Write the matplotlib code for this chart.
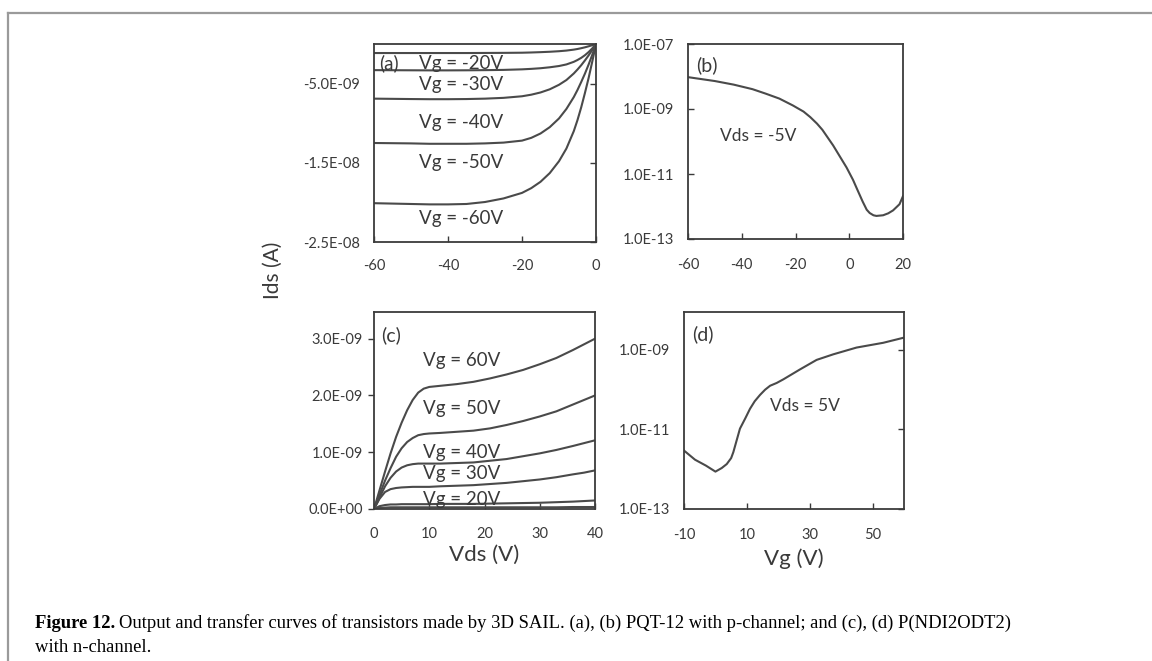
import numpy as np
import matplotlib.pyplot as plt
from matplotlib.lines import Line2D

plt.rcParams['font.family'] = ['Lato', 'DejaVu Sans']
plt.rcParams['axes.unicode_minus'] = False

# (a) output curves, PQT-12 (p-channel)
vds_a = [-60, -50, -45, -40, -35, -30, -25, -20, -17.5, -15, -12.5, -10, -8, -6, -5, -4, -3, -2, -1, 0]
ids_a_m20 = [-1.14, -1.14, -1.14, -1.14, -1.14, -1.13, -1.12, -1.10, -1.07, -1.03, -0.98, -0.91, -0.83, -0.71, -0.63, -0.53, -0.42, -0.29, -0.15, 0]
ids_a_m30 = [-3.30, -3.32, -3.33, -3.33, -3.32, -3.30, -3.27, -3.20, -3.14, -3.06, -2.94, -2.78, -2.58, -2.25, -2.02, -1.75, -1.42, -1.02, -0.55, 0]
ids_a_m40 = [-6.90, -6.95, -6.97, -6.97, -6.95, -6.90, -6.80, -6.60, -6.40, -6.12, -5.72, -5.15, -4.55, -3.72, -3.22, -2.68, -2.08, -1.44, -0.75, 0]
ids_a_m50 = [-12.5, -12.55, -12.6, -12.6, -12.6, -12.55, -12.45, -12.2, -11.85, -11.3, -10.5, -9.4, -8.2, -6.7, -5.8, -4.8, -3.75, -2.6, -1.35, 0]
ids_a_m60 = [-20.1, -20.2, -20.25, -20.25, -20.2, -19.95, -19.5, -18.8, -18.2, -17.4, -16.3, -14.8, -13.2, -11.0, -9.6, -8.0, -6.2, -4.3, -2.2, 0]
labels_a = ['Vg = -20V', 'Vg = -30V', 'Vg = -40V', 'Vg = -50V', 'Vg = -60V']
label_y_a = [-2.4, -5.1, -9.9, -15.0, -22.0]

# (b) transfer curve, Vds = -5 V
vg_b = [-60, -50, -43, -36, -31, -26, -21, -17, -14.5, -12, -10, -8.5, -6, -3.5, -1, 1.4, 3, 5, 6.5, 7.6, 9, 10.1, 12.6, 14.5, 16.3, 18.7, 20]
log_ids_b = [-8.02, -8.14, -8.25, -8.39, -8.53, -8.68, -8.89, -9.08, -9.25, -9.45, -9.64, -9.82, -10.12, -10.46, -10.8, -11.18, -11.48, -11.85, -12.1, -12.2, -12.27, -12.29, -12.27, -12.21, -12.12, -11.93, -11.68]

# (c) output curves, P(NDI2ODT2) (n-channel)
vds_c = [0, 1, 2, 3, 4, 5, 6, 7, 8, 9, 10, 12, 15, 18, 21, 24, 27, 30, 33, 36, 38, 40]
ids_c_60 = [0, 0.33, 0.66, 0.98, 1.27, 1.52, 1.74, 1.92, 2.05, 2.12, 2.15, 2.17, 2.20, 2.24, 2.30, 2.37, 2.45, 2.55, 2.66, 2.80, 2.90, 3.00]
ids_c_50 = [0, 0.25, 0.50, 0.72, 0.92, 1.07, 1.18, 1.25, 1.30, 1.32, 1.33, 1.34, 1.36, 1.38, 1.42, 1.48, 1.55, 1.63, 1.72, 1.84, 1.92, 2.00]
ids_c_40 = [0, 0.20, 0.40, 0.55, 0.66, 0.73, 0.77, 0.79, 0.80, 0.80, 0.80, 0.80, 0.81, 0.82, 0.85, 0.88, 0.93, 0.98, 1.04, 1.11, 1.16, 1.21]
ids_c_30 = [0, 0.18, 0.30, 0.35, 0.37, 0.38, 0.385, 0.39, 0.39, 0.39, 0.39, 0.40, 0.41, 0.42, 0.44, 0.46, 0.49, 0.52, 0.56, 0.61, 0.64, 0.68]
ids_c_20 = [0, 0.05, 0.07, 0.08, 0.08, 0.085, 0.085, 0.085, 0.085, 0.085, 0.085, 0.09, 0.09, 0.09, 0.095, 0.10, 0.105, 0.11, 0.12, 0.13, 0.14, 0.15]
ids_c_10 = [0, 0.02, 0.025, 0.03, 0.03, 0.03, 0.03, 0.03, 0.03, 0.03, 0.03, 0.03, 0.03, 0.03, 0.03, 0.03, 0.03, 0.03, 0.03, 0.035, 0.035, 0.035]
labels_c = ['Vg = 60V', 'Vg = 50V', 'Vg = 40V', 'Vg = 30V', 'Vg = 20V']
label_y_c = [2.62, 1.77, 1.0, 0.63, 0.16]

# (d) transfer curve, Vds = 5 V
vg_d = [-10, -6.5, -3, 0, 2, 3.6, 5, 5.7, 7.8, 9.5, 11, 12.5, 14.2, 15.8, 17.4, 19.5, 21.6, 26.9, 32.2, 37.5, 44.9, 53.4, 60]
log_ids_d = [-11.53, -11.76, -11.91, -12.06, -11.97, -11.87, -11.72, -11.57, -10.98, -10.72, -10.48, -10.29, -10.13, -10.0, -9.9, -9.83, -9.74, -9.49, -9.25, -9.11, -8.94, -8.82, -8.69]

line_col = '#4a4a4a'
spine_col = '#3c3c3c'
text_col = '#3a3a3a'
tick_fs = 10.5
ann_fs = 13

fig = plt.figure(figsize=(11.52, 6.61), dpi=100)

# page frame around the figure
fig.add_artist(Line2D([8 / 1152, 1], [1 - 13 / 661, 1 - 13 / 661], color='#9a9a9a', lw=1.6))
fig.add_artist(Line2D([8 / 1152, 8 / 1152], [0, 1 - 13 / 661], color='#9a9a9a', lw=1.6))


def style(ax):
    for s in ax.spines.values():
        s.set_color(spine_col)
        s.set_linewidth(1.3)
    ax.tick_params(colors=text_col, labelsize=tick_fs, length=4, width=1)


ax_a = fig.add_axes([374 / 1152, 1 - 242 / 661, 222 / 1152, 198 / 661])
ax_b = fig.add_axes([688 / 1152, 1 - 239 / 661, 215 / 1152, 195 / 661])
ax_c = fig.add_axes([374 / 1152, 1 - 509 / 661, 221 / 1152, 197 / 661])
ax_d = fig.add_axes([684 / 1152, 1 - 509 / 661, 220 / 1152, 197 / 661])

# (a)
for ids in [ids_a_m20, ids_a_m30, ids_a_m40, ids_a_m50, ids_a_m60]:
    ax_a.plot(vds_a, np.array(ids) * 1e-9, color=line_col, lw=1.5)
ax_a.set_xlim(-60, 0)
ax_a.set_ylim(-2.5e-8, 0)
ax_a.set_xticks([-60, -40, -20, 0])
ax_a.set_yticks([-2.5e-8, -1.5e-8, -5e-9])
ax_a.set_yticklabels(['-2.5E-08', '-1.5E-08', '-5.0E-09'])
ax_a.tick_params(axis='x', direction='in', pad=12)
ax_a.tick_params(axis='y', direction='in', right=True, left=False, pad=10)
for lab, ly in zip(labels_a, label_y_a):
    ax_a.text(-36.4, ly * 1e-9, lab, ha='center', va='center', fontsize=ann_fs + 0.5, color=text_col)
ax_a.text(-58.6, -2.4e-9, '(a)', ha='left', va='center', fontsize=ann_fs + 0.5, color=text_col)
style(ax_a)

# (b)
ax_b.semilogy(vg_b, 10.0 ** np.array(log_ids_b), color=line_col, lw=1.5)
ax_b.set_xlim(-60, 20)
ax_b.set_ylim(1e-13, 1e-7)
ax_b.set_xticks([-60, -40, -20, 0, 20])
ax_b.set_yticks([1e-13, 1e-11, 1e-9, 1e-7])
ax_b.set_yticklabels(['1.0E-13', '1.0E-11', '1.0E-09', '1.0E-07'])
ax_b.yaxis.set_minor_locator(plt.NullLocator())
ax_b.tick_params(axis='x', direction='in', pad=14)
ax_b.tick_params(axis='y', direction='in', pad=10)
ax_b.text(-57, 10 ** -7.64, '(b)', ha='left', va='center', fontsize=ann_fs + 1, color=text_col)
ax_b.text(-33.8, 10 ** -9.83, 'Vds = -5V', ha='center', va='center', fontsize=ann_fs - 0.5, color=text_col)
style(ax_b)

# (c)
for ids in [ids_c_60, ids_c_50, ids_c_40, ids_c_30, ids_c_20, ids_c_10]:
    ax_c.plot(vds_c, np.array(ids) * 1e-9, color=line_col, lw=1.5)
ax_c.set_xlim(0, 40)
ax_c.set_ylim(0, 3.47e-9)
ax_c.set_xticks([0, 10, 20, 30, 40])
ax_c.set_yticks([0, 1e-9, 2e-9, 3e-9])
ax_c.set_yticklabels(['0.0E+00', '1.0E-09', '2.0E-09', '3.0E-09'])
ax_c.tick_params(axis='x', direction='in', pad=13)
ax_c.tick_params(axis='y', direction='out', pad=4)
for lab, ly in zip(labels_c, label_y_c):
    ax_c.text(15.9, ly * 1e-9, lab, ha='center', va='center', fontsize=ann_fs + 0.5, color=text_col)
ax_c.text(1.2, 3.06e-9, '(c)', ha='left', va='center', fontsize=ann_fs + 1, color=text_col)
ax_c.set_xlabel('Vds (V)', fontsize=16, color=text_col, labelpad=3)
style(ax_c)

# (d)
ax_d.semilogy(vg_d, 10.0 ** np.array(log_ids_d), color=line_col, lw=1.5)
ax_d.set_xlim(-10, 60)
ax_d.set_ylim(1e-13, 9e-9)
ax_d.set_xticks([-10, 10, 30, 50])
ax_d.set_yticks([1e-13, 1e-11, 1e-9])
ax_d.set_yticklabels(['1.0E-13', '1.0E-11', '1.0E-09'])
ax_d.yaxis.set_minor_locator(plt.NullLocator())
ax_d.tick_params(axis='x', direction='in', pad=14)
ax_d.tick_params(axis='y', direction='in', right=True, left=False, pad=10)
ax_d.text(-7.5, 10 ** -8.6, '(d)', ha='left', va='center', fontsize=ann_fs + 1, color=text_col)
ax_d.text(28.5, 10 ** -10.41, 'Vds = 5V', ha='center', va='center', fontsize=ann_fs - 0.5, color=text_col)
ax_d.set_xlabel('Vg (V)', fontsize=16, color=text_col, labelpad=4)
style(ax_d)
# labels stay on the left while tick marks sit on the right spine
ax_d.tick_params(axis='y', labelleft=True, labelright=False)

fig.text(273 / 1152, 1 - 270 / 661, 'Ids (A)', rotation=90, ha='center', va='center',
         fontsize=15, color=text_col)

# caption: bold figure number followed by regular text
cap_x = 35 / 1152
cap_fs = 13.4
head = fig.text(cap_x, 1 - 623 / 661, 'Figure 12.', fontsize=cap_fs, va='center',
                family='Liberation Serif', weight='bold')
renderer = fig.canvas.get_renderer()
bb = head.get_window_extent(renderer=renderer)
fig.text((bb.x1 + 4) / 1152, 1 - 623 / 661,
         'Output and transfer curves of transistors made by 3D SAIL. (a), (b) PQT-12 with p-channel; and (c), (d) P(NDI2ODT2)',
         fontsize=cap_fs, va='center', family='Liberation Serif')
fig.text(cap_x, 1 - 648 / 661, 'with n-channel.', fontsize=cap_fs, va='center', family='Liberation Serif')

fig.savefig('out.png', dpi=100)
